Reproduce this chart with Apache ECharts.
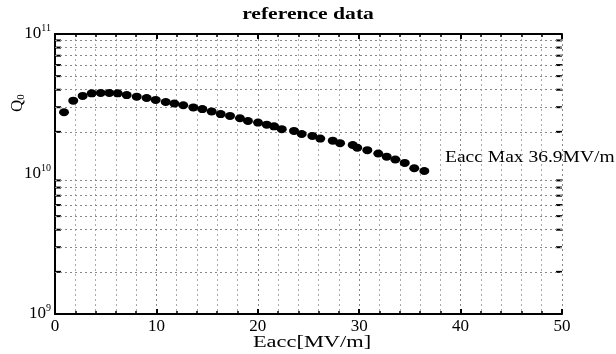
<!DOCTYPE html>
<html><head><meta charset="utf-8">
<script src="https://cdn.jsdelivr.net/npm/echarts@6/dist/echarts.min.js"></script>
<style>html,body{margin:0;padding:0;background:#fff}#c{width:616px;height:354px}</style>
</head><body><div id="c"></div>
<script>
var titleText = 'reference data';
var xName = 'Eacc[MV/m]';
var annotation = 'Eacc Max 36.9MV/m';
var eacc = [0.89,1.80,2.73,3.62,4.51,5.36,6.18,7.07,8.06,9.04,9.93,10.92,11.77,12.65,13.64,14.53,15.45,16.34,17.26,18.24,19.03,20.02,20.88,21.60,22.36,23.57,24.33,25.38,26.16,27.39,28.11,29.36,29.81,30.80,31.88,32.71,33.56,34.49,35.43,36.42];
var q0 = [2.76e10,3.34e10,3.61e10,3.77e10,3.79e10,3.79e10,3.77e10,3.66e10,3.57e10,3.49e10,3.38e10,3.27e10,3.19e10,3.10e10,2.99e10,2.91e10,2.80e10,2.68e10,2.60e10,2.50e10,2.39e10,2.33e10,2.25e10,2.19e10,2.09e10,2.03e10,1.93e10,1.87e10,1.79e10,1.73e10,1.66e10,1.61e10,1.54e10,1.48e10,1.40e10,1.33e10,1.27e10,1.20e10,1.10e10,1.05e10];
var yMinorValues = [2e9,3e9,4e9,5e9,6e9,7e9,8e9,9e9,2e10,3e10,4e10,5e10,6e10,7e10,8e10,9e10];
var xMin = 0, xMax = 50, xStep = 10;
var yMin = 1e9, yMax = 1e11;

var serif = '"Liberation Serif","DejaVu Serif",serif';
var chart = echarts.init(document.getElementById('c'));
function expLabel(v){
  var e = Math.round(Math.log10(v));
  return '{b|10}{s|' + e + '}';
}
var rich = {b:{fontFamily:serif,fontSize:17,color:'#000'}, s:{fontFamily:serif,fontSize:10,color:'#000',verticalAlign:'top',padding:[0,0,11,0]}};
var minorMarks = yMinorValues.map(function(v){return {yAxis:v};});
chart.setOption({
  animation:false,
  backgroundColor:'#fff',
  grid:{left:55,right:54,top:34,bottom:40},
  graphic:[
    {type:'text',x:308,y:15,scaleX:1.35,style:{text:titleText,font:'bold 16px ' + serif,fill:'#000',align:'center',verticalAlign:'middle'}},
    {type:'text',x:312,y:343,scaleX:1.4,style:{text:xName,font:'16px ' + serif,fill:'#000',align:'center',verticalAlign:'middle'}},
    {type:'text',x:445,y:158,scaleX:1.22,style:{text:annotation,font:'16px ' + serif,fill:'#000',align:'left',verticalAlign:'middle'}},
    {type:'text',x:8,y:112,rotation:Math.PI/2,style:{text:'{q|Q}{s|0}',rich:{q:{fontFamily:serif,fontSize:17,color:'#000'},s:{fontFamily:serif,fontSize:11,color:'#000',padding:[8,0,0,0]}}}}
  ],
  xAxis:[{
    type:'value',min:xMin,max:xMax,interval:xStep,
    axisLine:{lineStyle:{color:'#000',width:2}},
    axisTick:{inside:true,length:5,lineStyle:{color:'#000',width:2}},
    minorTick:{show:true,splitNumber:5,length:3,lineStyle:{color:'#000',width:1.5}},
    axisLabel:{fontFamily:serif,fontSize:17,color:'#000',margin:4},
    splitLine:{show:true,lineStyle:{color:'#888',type:[2,3],width:1}},
    minorSplitLine:{show:true,lineStyle:{color:'#aaa',type:[2,3],width:1}}
  },{
    type:'value',min:xMin,max:xMax,interval:xStep,position:'top',
    axisLine:{lineStyle:{color:'#000',width:2}},
    axisTick:{inside:true,length:5,lineStyle:{color:'#000',width:2}},
    minorTick:{show:true,splitNumber:5,length:3,lineStyle:{color:'#000',width:1.5}},
    axisLabel:{show:false},splitLine:{show:false}
  }],
  yAxis:[{
    type:'log',logBase:10,min:yMin,max:yMax,
    axisLine:{show:true,lineStyle:{color:'#000',width:2}},
    axisTick:{show:false},
    axisLabel:{formatter:expLabel,rich:rich,margin:4},
    splitLine:{show:false}
  },{
    type:'log',logBase:10,min:yMin,max:yMax,position:'right',
    axisLine:{show:true,lineStyle:{color:'#000',width:2}},
    axisTick:{show:false},axisLabel:{show:false},splitLine:{show:false}
  }],
  series:[
    {type:'scatter',xAxisIndex:0,yAxisIndex:0,silent:true,z:1,
     data:yMinorValues.map(function(v){return [xMin,v];}),
     symbol:'rect',symbolSize:[6,2],symbolOffset:[3,0],itemStyle:{color:'#000',opacity:1},
     markLine:{silent:true,symbol:'none',label:{show:false},lineStyle:{color:'#888',type:[2,3],width:1},data:minorMarks}},
    {type:'scatter',xAxisIndex:0,yAxisIndex:0,silent:true,z:1,
     data:yMinorValues.map(function(v){return [xMax,v];}),
     symbol:'rect',symbolSize:[6,2],symbolOffset:[-3,0],itemStyle:{color:'#000',opacity:1}},
    {type:'scatter',xAxisIndex:0,yAxisIndex:0,z:5,
     data:eacc.map(function(x,i){return [x,q0[i]];}),
     symbol:'circle',symbolSize:[10,8],itemStyle:{color:'#000',opacity:1}}
  ]
});
</script></body></html>
